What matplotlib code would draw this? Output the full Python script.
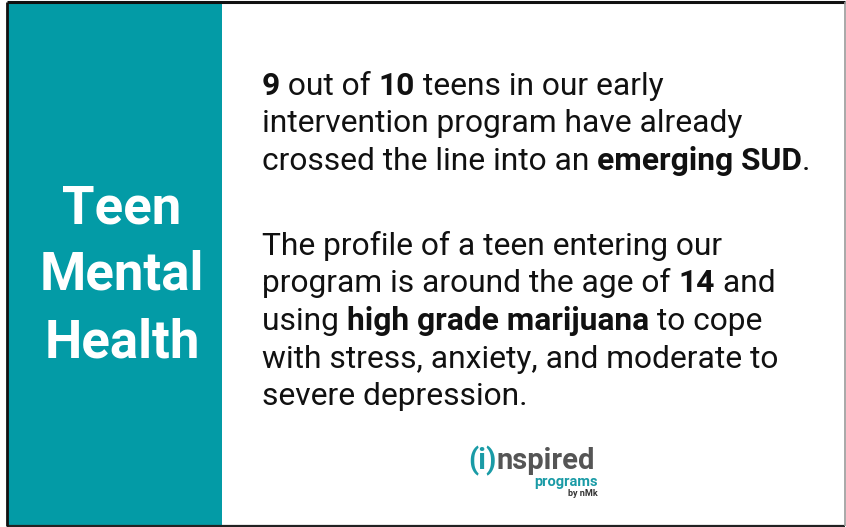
import matplotlib
matplotlib.use("Agg")
import matplotlib.pyplot as plt
from matplotlib.patches import Rectangle

TEAL = "#039ba6"
INK = "#111111"

# heading on the teal panel
heading = ["Teen", "Mental", "Health"]
heading_baselines = [223, 290, 357]

# body text: each line is a list of (text, is_bold)
para1 = [
    [("9", True), (" out of ", False), ("10", True), (" teens in our early", False)],
    [("intervention program have already", False)],
    [("crossed the line into an ", False), ("emerging SUD", True), (".", False)],
]
para2 = [
    [("The profile of a teen entering our", False)],
    [("program is around the age of ", False), ("14", True), (" and", False)],
    [("using ", False), ("high grade marijuana", True), (" to cope", False)],
    [("with stress, anxiety, and moderate to", False)],
    [("severe depression.", False)],
]
para1_baselines = [95, 132.5, 170]
para2_baselines = [255, 292.5, 330, 367.5, 405]

W, H = 846, 527
fig = plt.figure(figsize=(W / 100, H / 100), dpi=100)
ax = fig.add_axes([0, 0, 1, 1])
ax.set_xlim(0, W)
ax.set_ylim(H, 0)
ax.axis("off")

# frame and teal panel
ax.add_patch(Rectangle((7, 2), 838, 524, facecolor="white", edgecolor="none"))
ax.add_patch(Rectangle((8, 3), 214, 523, facecolor=TEAL, edgecolor="none"))
ax.plot([7, 845], [2, 2], color="#111111", lw=2.2, solid_capstyle="butt")
ax.plot([7, 845], [526, 526], color="#222222", lw=1.6, solid_capstyle="butt")
ax.plot([7, 7], [2, 526], color="#111111", lw=2.0, solid_capstyle="butt")
ax.plot([845, 845], [2, 526], color="#999999", lw=1.2, solid_capstyle="butt")

for word, yb in zip(heading, heading_baselines):
    ax.text(122, yb, word, ha="center", va="baseline", color="white",
            fontsize=38, fontweight="bold", family="Roboto")

renderer = fig.canvas.get_renderer()


def draw_line(x0, yb, parts, size=22.9):
    x = x0
    for txt, bold in parts:
        t = ax.text(x, yb, txt, ha="left", va="baseline", color=INK,
                    fontsize=size, fontweight="bold" if bold else "normal",
                    family="Roboto")
        bb = t.get_window_extent(renderer=renderer)
        x += bb.width


for parts, yb in zip(para1, para1_baselines):
    draw_line(262, yb, parts)
for parts, yb in zip(para2, para2_baselines):
    draw_line(262, yb, parts)

# logo
t1 = ax.text(468, 469, "(i)", ha="left", va="baseline", color="#1a9ba6",
             fontsize=21, fontweight="bold", family="Roboto")
bb = t1.get_window_extent(renderer=renderer)
ax.text(468 + bb.width, 469, "nspired", ha="left", va="baseline", color="#555555",
        fontsize=21, fontweight="bold", family="Roboto")
ax.text(598, 486, "programs", ha="right", va="baseline", color="#1a9ba6",
        fontsize=10.5, fontweight="bold", family="Roboto")
ax.text(598, 496, "by nMk", ha="right", va="baseline", color="#333333",
        fontsize=6.5, fontweight="bold", family="Roboto")

fig.savefig("out.png", dpi=100)
